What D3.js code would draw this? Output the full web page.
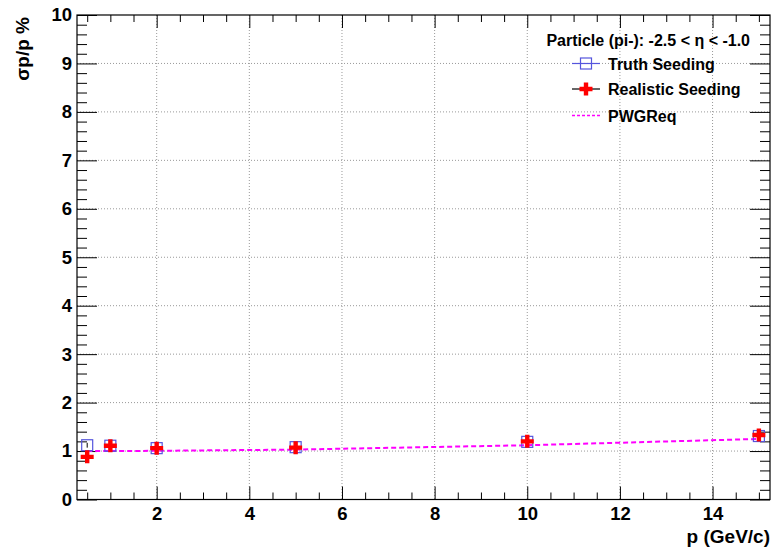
<!DOCTYPE html>
<html><head><meta charset="utf-8">
<script src="https://cdn.jsdelivr.net/npm/d3@7"></script>
<style>body{margin:0;background:#fff}svg{display:block;font-family:"Liberation Sans",Arial,sans-serif}</style>
</head><body><svg id="c" width="773" height="549"></svg>
<script>
const pValues = [0.5, 1, 2, 5, 10, 15];
const truthSeeding = [1.12, 1.11, 1.06, 1.08, 1.19, 1.31];
const truthErr = [0.05, 0.01, 0.01, 0.01, 0.01, 0.01];
const realisticSeeding = [0.88, 1.11, 1.06, 1.07, 1.20, 1.33];
const pwgP = [0.5, 1, 2, 5, 10, 15];
const pwgReq = [1.0, 1.0, 1.005, 1.03, 1.12, 1.25];
const xMajorTicks = [2, 4, 6, 8, 10, 12, 14];
const yMajorTicks = [0,1,2,3,4,5,6,7,8,9,10];
const legendTitle = "Particle (pi-): -2.5 < \u03b7 < -1.0";
const seriesNames = ["Truth Seeding", "Realistic Seeding", "PWGReq"];

const svg = d3.select("#c");
const L = 77, R = 770, T = 15, B = 499.5;
const x = d3.scaleLinear().domain([0.28, 15.24]).range([L, R]);
const y = d3.scaleLinear().domain([0, 10]).range([B, T]);

// grid
const g = svg.append("g");
g.selectAll(".vg").data(xMajorTicks).join("line")
  .attr("x1", d => x(d)).attr("x2", d => x(d)).attr("y1", T).attr("y2", B)
  .attr("stroke", "#999").attr("stroke-width", 1).attr("stroke-dasharray", "1,2");
g.selectAll(".hg").data(yMajorTicks.filter(d => d > 0 && d < 10)).join("line")
  .attr("x1", L).attr("x2", R).attr("y1", d => y(d)).attr("y2", d => y(d))
  .attr("stroke", "#999").attr("stroke-width", 1).attr("stroke-dasharray", "1,2");

// axes with custom ticks
const xMinor = d3.range(0.5, 15.01, 0.5).filter(d => !xMajorTicks.includes(d));
const yMinor = d3.range(0.2, 10, 0.2).map(d => +d.toFixed(1)).filter(d => Math.abs(d - Math.round(d)) > 1e-6);

svg.append("g").attr("transform", `translate(0,${B})`)
  .call(d3.axisBottom(x).tickValues(xMajorTicks).tickSize(-13).tickPadding(7).tickFormat(d3.format("d")))
  .call(a => a.select(".domain").remove());
svg.append("g").attr("transform", `translate(0,${B})`)
  .call(d3.axisBottom(x).tickValues(xMinor).tickSize(-7).tickFormat(""))
  .call(a => a.select(".domain").remove());
svg.append("g").attr("transform", `translate(0,${T})`)
  .call(d3.axisTop(x).tickValues(xMajorTicks).tickSize(-13).tickFormat(""))
  .call(a => a.select(".domain").remove());
svg.append("g").attr("transform", `translate(0,${T})`)
  .call(d3.axisTop(x).tickValues(xMinor).tickSize(-7).tickFormat(""))
  .call(a => a.select(".domain").remove());

svg.append("g").attr("transform", `translate(${L},0)`)
  .call(d3.axisLeft(y).tickValues(yMajorTicks).tickSize(-20).tickPadding(5).tickFormat(d3.format("d")))
  .call(a => a.select(".domain").remove());
svg.append("g").attr("transform", `translate(${L},0)`)
  .call(d3.axisLeft(y).tickValues(yMinor).tickSize(-10).tickFormat(""))
  .call(a => a.select(".domain").remove());
svg.append("g").attr("transform", `translate(${R},0)`)
  .call(d3.axisRight(y).tickValues(yMajorTicks).tickSize(-20).tickFormat(""))
  .call(a => a.select(".domain").remove());
svg.append("g").attr("transform", `translate(${R},0)`)
  .call(d3.axisRight(y).tickValues(yMinor).tickSize(-10).tickFormat(""))
  .call(a => a.select(".domain").remove());

svg.selectAll(".tick line").attr("stroke", "#000").attr("stroke-width", 1);
svg.selectAll(".tick text").attr("font-size", 18.5).attr("font-weight", "bold")
  .attr("font-family", "Liberation Sans, Arial, sans-serif").attr("fill", "#000");

// frame
svg.append("rect").attr("x", L).attr("y", T).attr("width", R - L).attr("height", B - T)
  .attr("fill", "none").attr("stroke", "#000").attr("stroke-width", 1.2);

// axis titles
svg.append("text").attr("x", R).attr("y", 543).attr("text-anchor", "end")
  .attr("font-size", 19).attr("font-weight", "bold").text("p (GeV/c)");
svg.append("text").attr("transform", `translate(29,17) rotate(-90)`).attr("text-anchor", "end")
  .attr("font-size", 19).attr("font-weight", "bold").text("\u03c3p/p %");

// PWG line
const line = d3.line().x(d => x(d[0])).y(d => y(d[1]));
svg.append("path").datum(pwgP.map((p, i) => [p, pwgReq[i]])).attr("d", line)
  .attr("fill", "none").attr("stroke", "#ff00ff").attr("stroke-width", 2).attr("stroke-dasharray", "5,3");

// markers
function square(sel, cx, cy) {
  sel.append("rect").attr("x", cx - 5.5).attr("y", cy - 5.5).attr("width", 11).attr("height", 11)
    .attr("fill", "none").attr("stroke", "#5555dd").attr("stroke-width", 1.2);
}
function cross(sel, cx, cy) {
  const s = 6.5, w = 2.2;
  sel.append("path").attr("d",
    `M${cx - w},${cy - s}H${cx + w}V${cy - w}H${cx + s}V${cy + w}H${cx + w}V${cy + s}H${cx - w}V${cy + w}H${cx - s}V${cy - w}H${cx - w}Z`)
    .attr("fill", "#ff0000");
}
const mk = svg.append("g");
pValues.forEach((p, i) => {
  mk.append("line").attr("x1", x(p)).attr("x2", x(p))
    .attr("y1", y(truthSeeding[i] - truthErr[i])).attr("y2", y(truthSeeding[i] + truthErr[i]))
    .attr("stroke", "#000").attr("stroke-width", 1);
  square(mk, x(p), y(truthSeeding[i]));
});
pValues.forEach((p, i) => cross(mk, x(p), y(realisticSeeding[i])));

// legend
const lg = svg.append("g").attr("font-size", 16).attr("font-weight", "bold");
lg.append("text").attr("x", 750).attr("y", 46).attr("text-anchor", "end").text(legendTitle);
const ly = [63.5, 89, 115.5];
lg.append("line").attr("x1", 572).attr("x2", 600).attr("y1", ly[0]).attr("y2", ly[0]).attr("stroke", "#5555dd").attr("stroke-width", 1.2);
square(lg, 586, ly[0]);
lg.append("line").attr("x1", 572).attr("x2", 600).attr("y1", ly[1]).attr("y2", ly[1]).attr("stroke", "#000").attr("stroke-width", 1.2);
cross(lg, 586, ly[1]);
lg.append("line").attr("x1", 572).attr("x2", 600).attr("y1", ly[2]).attr("y2", ly[2]).attr("stroke", "#ff00ff").attr("stroke-width", 1.5).attr("stroke-dasharray", "3,2");
seriesNames.forEach((n, i) => lg.append("text").attr("x", 608).attr("y", ly[i] + 6).text(n));
</script></body></html>
